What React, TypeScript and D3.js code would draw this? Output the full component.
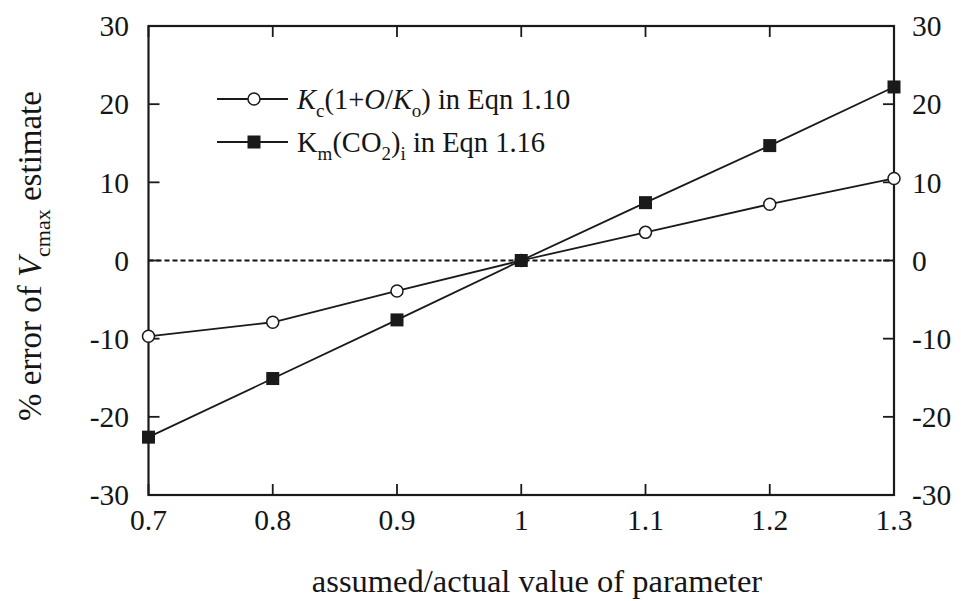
import React, { useEffect, useRef } from "react";
import * as d3 from "d3";

const xValues = [0.7, 0.8, 0.9, 1.0, 1.1, 1.2, 1.3];
const kcSeries = [-9.7, -7.9, -3.9, 0, 3.6, 7.2, 10.5];
const kmSeries = [-22.6, -15.1, -7.6, 0, 7.4, 14.7, 22.2];
const xTicks = [0.7, 0.8, 0.9, 1.0, 1.1, 1.2, 1.3];
const yTicks = [-30, -20, -10, 0, 10, 20, 30];

const W = 961;
const H = 601;
const M = { left: 148.5, right: 894, top: 26, bottom: 495 };
const FONT = "'Liberation Serif', 'Times New Roman', serif";

export default function App() {
  const ref = useRef<SVGSVGElement | null>(null);

  useEffect(() => {
    const svg = d3.select(ref.current);
    svg.selectAll("*").remove();

    const x = d3.scaleLinear().domain([0.7, 1.3]).range([M.left, M.right]);
    const y = d3.scaleLinear().domain([-30, 30]).range([M.bottom, M.top]);

    svg.append("rect").attr("width", W).attr("height", H).attr("fill", "#fff");

    // zero dashed line
    svg
      .append("line")
      .attr("x1", x(0.7))
      .attr("x2", x(1.3))
      .attr("y1", y(0))
      .attr("y2", y(0))
      .attr("stroke", "#111")
      .attr("stroke-width", 2.2)
      .attr("stroke-dasharray", "5,3");

    const tickLen = 11;
    const g = svg.append("g").attr("stroke", "#1a1a1a").attr("stroke-width", 1.8);
    xTicks.forEach((t) => {
      g.append("line").attr("x1", x(t)).attr("x2", x(t)).attr("y1", M.bottom).attr("y2", M.bottom - tickLen);
      g.append("line").attr("x1", x(t)).attr("x2", x(t)).attr("y1", M.top).attr("y2", M.top + tickLen);
    });
    yTicks.forEach((t) => {
      g.append("line").attr("x1", M.left).attr("x2", M.left + tickLen).attr("y1", y(t)).attr("y2", y(t));
      g.append("line").attr("x1", M.right).attr("x2", M.right - tickLen).attr("y1", y(t)).attr("y2", y(t));
    });
    svg
      .append("rect")
      .attr("x", M.left)
      .attr("y", M.top)
      .attr("width", M.right - M.left)
      .attr("height", M.bottom - M.top)
      .attr("fill", "none")
      .attr("stroke", "#1a1a1a")
      .attr("stroke-width", 2.2);

    const tl = svg.append("g").attr("font-family", FONT).attr("font-size", 29.5).attr("fill", "#151515");
    xTicks.forEach((t) => {
      tl.append("text")
        .attr("x", x(t))
        .attr("y", 530)
        .attr("text-anchor", "middle")
        .text(d3.format("")(+t.toFixed(1)));
    });
    yTicks.forEach((t) => {
      tl.append("text")
        .attr("x", 129)
        .attr("y", y(t))
        .attr("dy", "0.35em")
        .attr("text-anchor", "end")
        .text(String(t));
      tl.append("text")
        .attr("x", 912)
        .attr("y", y(t))
        .attr("dy", "0.35em")
        .attr("text-anchor", "start")
        .text(String(t));
    });

    const line = d3
      .line<number>()
      .x((_, i) => x(xValues[i]))
      .y((d) => y(d));

    svg.append("path").datum(kcSeries).attr("d", line).attr("fill", "none").attr("stroke", "#1a1a1a").attr("stroke-width", 1.8);
    svg.append("path").datum(kmSeries).attr("d", line).attr("fill", "none").attr("stroke", "#1a1a1a").attr("stroke-width", 1.8);

    const sq = 13;
    svg
      .selectAll("circle.kc")
      .data(kcSeries)
      .enter()
      .append("circle")
      .attr("cx", (_, i) => x(xValues[i]))
      .attr("cy", (d) => y(d))
      .attr("r", 6)
      .attr("fill", "#fff")
      .attr("stroke", "#1a1a1a")
      .attr("stroke-width", 1.5);
    svg
      .selectAll("rect.km")
      .data(kmSeries)
      .enter()
      .append("rect")
      .attr("x", (_, i) => x(xValues[i]) - sq / 2)
      .attr("y", (d) => y(d) - sq / 2)
      .attr("width", sq)
      .attr("height", sq)
      .attr("fill", "#1a1a1a");

    const lg = svg.append("g");
    const ly1 = 99;
    const ly2 = 142;
    lg.append("line").attr("x1", 217).attr("x2", 288).attr("y1", ly1).attr("y2", ly1).attr("stroke", "#1a1a1a").attr("stroke-width", 1.8);
    lg.append("circle").attr("cx", 254).attr("cy", ly1).attr("r", 6).attr("fill", "#fff").attr("stroke", "#1a1a1a").attr("stroke-width", 1.5);
    lg.append("line").attr("x1", 217).attr("x2", 288).attr("y1", ly2).attr("y2", ly2).attr("stroke", "#1a1a1a").attr("stroke-width", 1.8);
    lg.append("rect").attr("x", 254 - sq / 2).attr("y", ly2 - sq / 2).attr("width", sq).attr("height", sq).attr("fill", "#1a1a1a");
  }, []);

  const sub = { fontSize: 19 } as const;
  return (
    <div style={{ position: "fixed", left: 0, top: 0 }}>
      <svg ref={ref} width={W} height={H} style={{ display: "block" }}></svg>
      <svg width={W} height={H} style={{ position: "absolute", left: 0, top: 0 }} fontFamily={FONT} fill="#151515">
        <text x={297} y={109} fontSize={28.5}>
          <tspan fontStyle="italic">K</tspan>
          <tspan dy={8} style={sub}>c</tspan>
          <tspan dy={-8}>(1+</tspan>
          <tspan fontStyle="italic">O</tspan>
          <tspan>/</tspan>
          <tspan fontStyle="italic">K</tspan>
          <tspan dy={8} style={sub}>o</tspan>
          <tspan dy={-8}>) in Eqn 1.10</tspan>
        </text>
        <text x={297} y={152} fontSize={28.5}>
          <tspan>K</tspan>
          <tspan dy={8} style={sub}>m</tspan>
          <tspan dy={-8}>(CO</tspan>
          <tspan dy={8} style={sub}>2</tspan>
          <tspan dy={-8}>)</tspan>
          <tspan dy={8} style={sub}>i</tspan>
          <tspan dy={-8}> in Eqn 1.16</tspan>
        </text>
        <text x={537} y={592} fontSize={32.5} textAnchor="middle">
          assumed/actual value of parameter
        </text>
        <text transform="translate(41,256) rotate(-90)" fontSize={33} textAnchor="middle">
          <tspan>% error of </tspan>
          <tspan fontStyle="italic">V</tspan>
          <tspan dy={9} style={{ fontSize: 22 }}>cmax</tspan>
          <tspan dy={-9}> estimate</tspan>
        </text>
      </svg>
    </div>
  );
}
